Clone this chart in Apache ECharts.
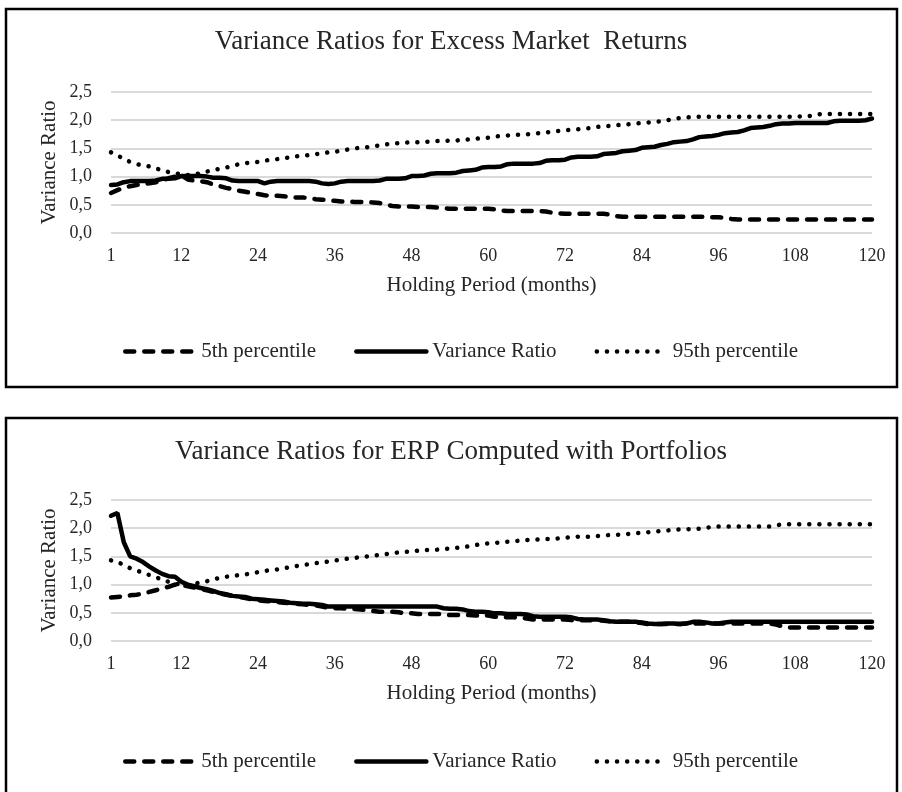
<!DOCTYPE html>
<html>
<head>
<meta charset="utf-8">
<script src="https://cdn.jsdelivr.net/npm/echarts@6/dist/echarts.min.js"></script>
<style>
html,body{margin:0;padding:0;background:#fff;}
#chart{width:902px;height:792px;}
</style>
</head>
<body>
<div id="chart"></div>
<script>
// Holding periods (months)
const months = [1,2,3,4,5,6,7,8,9,10,11,12,13,14,15,16,17,18,19,20,
21,22,23,24,25,26,27,28,29,30,31,32,33,34,35,36,37,38,39,40,
41,42,43,44,45,46,47,48,49,50,51,52,53,54,55,56,57,58,59,60,
61,62,63,64,65,66,67,68,69,70,71,72,73,74,75,76,77,78,79,80,
81,82,83,84,85,86,87,88,89,90,91,92,93,94,95,96,97,98,99,100,
101,102,103,104,105,106,107,108,109,110,111,112,113,114,115,116,117,118,119,120];
const xTickLabels = [1,12,24,36,48,60,72,84,96,108,120];
const yTicks = [0,0.5,1,1.5,2,2.5];

const titleTop = "Variance Ratios for Excess Market  Returns";
const titleBottom = "Variance Ratios for ERP Computed with Portfolios";
const seriesNames = ["5th percentile","Variance Ratio","95th percentile"];

// Chart 1: Excess Market Returns
const topP5 = [0.71,0.76,0.80,0.83,0.85,0.87,0.88,0.90,0.93,0.97,
1.00,1.02,0.95,0.93,0.92,0.90,0.86,0.83,0.80,0.78,
0.75,0.73,0.71,0.69,0.67,0.66,0.66,0.65,0.64,0.63,
0.63,0.62,0.60,0.59,0.58,0.57,0.56,0.56,0.55,0.55,
0.55,0.54,0.53,0.50,0.48,0.47,0.47,0.47,0.46,0.46,
0.46,0.45,0.44,0.43,0.43,0.43,0.43,0.43,0.43,0.43,
0.42,0.40,0.39,0.39,0.39,0.39,0.39,0.39,0.38,0.36,
0.35,0.34,0.34,0.34,0.34,0.34,0.34,0.34,0.33,0.30,
0.29,0.29,0.29,0.29,0.29,0.29,0.29,0.29,0.29,0.29,
0.29,0.29,0.29,0.29,0.28,0.28,0.27,0.25,0.24,0.24,
0.24,0.24,0.24,0.24,0.24,0.24,0.24,0.24,0.24,0.24,
0.24,0.24,0.24,0.24,0.24,0.24,0.24,0.24,0.24,0.24];
const topVR = [0.85,0.86,0.90,0.92,0.92,0.92,0.92,0.93,0.96,0.96,
0.97,1.01,1.01,1.01,1.01,1.00,0.98,0.98,0.97,0.93,
0.92,0.92,0.92,0.92,0.88,0.91,0.92,0.92,0.92,0.92,
0.92,0.92,0.91,0.88,0.87,0.88,0.91,0.92,0.92,0.92,
0.92,0.92,0.93,0.96,0.96,0.96,0.97,1.01,1.01,1.02,
1.05,1.06,1.06,1.06,1.07,1.10,1.11,1.12,1.16,1.17,
1.17,1.18,1.22,1.23,1.23,1.23,1.23,1.24,1.28,1.29,
1.29,1.30,1.34,1.35,1.35,1.35,1.36,1.40,1.41,1.42,
1.45,1.46,1.47,1.51,1.52,1.53,1.56,1.58,1.61,1.62,
1.63,1.66,1.70,1.71,1.72,1.74,1.77,1.78,1.79,1.82,
1.86,1.87,1.88,1.90,1.93,1.94,1.94,1.95,1.95,1.95,
1.95,1.95,1.95,1.98,1.99,1.99,1.99,1.99,2.00,2.03];
const topP95 = [1.43,1.38,1.31,1.26,1.22,1.20,1.18,1.14,1.12,1.08,
1.06,1.04,1.03,1.04,1.06,1.09,1.11,1.14,1.16,1.19,
1.22,1.24,1.25,1.26,1.28,1.30,1.31,1.33,1.34,1.36,
1.37,1.38,1.40,1.41,1.43,1.44,1.46,1.48,1.50,1.51,
1.52,1.54,1.55,1.57,1.59,1.59,1.60,1.61,1.61,1.62,
1.62,1.63,1.63,1.64,1.64,1.65,1.66,1.67,1.68,1.69,
1.71,1.72,1.73,1.74,1.74,1.75,1.76,1.77,1.78,1.80,
1.81,1.82,1.83,1.84,1.85,1.86,1.88,1.89,1.90,1.91,
1.92,1.93,1.94,1.95,1.96,1.97,1.98,2.00,2.02,2.04,
2.05,2.06,2.06,2.06,2.06,2.06,2.06,2.06,2.06,2.06,
2.06,2.06,2.06,2.06,2.06,2.06,2.06,2.06,2.07,2.07,
2.09,2.11,2.11,2.11,2.11,2.11,2.11,2.11,2.11,2.11];

// Chart 2: ERP computed with portfolios
const botP5 = [0.77,0.78,0.79,0.81,0.82,0.84,0.87,0.90,0.93,0.96,
1.00,0.99,0.97,0.95,0.92,0.90,0.87,0.84,0.82,0.80,
0.78,0.76,0.74,0.72,0.71,0.70,0.69,0.68,0.67,0.66,
0.65,0.64,0.63,0.61,0.59,0.58,0.58,0.57,0.57,0.56,
0.55,0.53,0.52,0.52,0.52,0.51,0.49,0.49,0.48,0.48,
0.48,0.48,0.47,0.46,0.46,0.46,0.46,0.45,0.45,0.45,
0.43,0.43,0.42,0.42,0.41,0.40,0.38,0.38,0.38,0.38,
0.38,0.38,0.37,0.37,0.37,0.37,0.37,0.36,0.35,0.34,
0.34,0.34,0.33,0.32,0.30,0.30,0.30,0.30,0.30,0.30,
0.31,0.31,0.31,0.31,0.31,0.31,0.31,0.31,0.31,0.31,
0.31,0.31,0.31,0.31,0.29,0.26,0.24,0.24,0.24,0.24,
0.24,0.24,0.24,0.24,0.24,0.24,0.24,0.24,0.24,0.24];
const botVR = [2.22,2.27,1.75,1.50,1.46,1.40,1.32,1.25,1.19,1.15,
1.14,1.05,1.00,0.97,0.94,0.92,0.89,0.85,0.83,0.80,
0.79,0.78,0.75,0.74,0.73,0.72,0.71,0.70,0.68,0.67,
0.66,0.66,0.65,0.64,0.61,0.61,0.61,0.61,0.61,0.61,
0.61,0.61,0.61,0.61,0.61,0.61,0.61,0.61,0.61,0.61,
0.61,0.61,0.58,0.57,0.57,0.56,0.53,0.52,0.52,0.51,
0.49,0.49,0.48,0.48,0.48,0.47,0.44,0.43,0.43,0.43,
0.43,0.43,0.42,0.39,0.38,0.38,0.38,0.37,0.35,0.34,
0.34,0.34,0.34,0.33,0.31,0.30,0.30,0.31,0.31,0.30,
0.31,0.34,0.34,0.33,0.31,0.31,0.33,0.34,0.34,0.34,
0.34,0.34,0.34,0.34,0.34,0.34,0.34,0.34,0.34,0.34,
0.34,0.34,0.34,0.34,0.34,0.34,0.34,0.34,0.34,0.34];
const botP95 = [1.43,1.40,1.35,1.29,1.25,1.21,1.17,1.13,1.09,1.05,
1.02,1.00,0.99,1.01,1.04,1.06,1.09,1.12,1.14,1.15,
1.17,1.18,1.20,1.22,1.24,1.26,1.27,1.29,1.31,1.33,
1.35,1.36,1.38,1.39,1.41,1.43,1.44,1.46,1.47,1.49,
1.50,1.51,1.53,1.54,1.56,1.57,1.58,1.59,1.60,1.61,
1.62,1.62,1.63,1.64,1.65,1.66,1.68,1.70,1.72,1.73,
1.74,1.75,1.76,1.77,1.78,1.79,1.80,1.80,1.81,1.81,
1.82,1.83,1.84,1.85,1.85,1.85,1.86,1.87,1.88,1.88,
1.89,1.90,1.91,1.92,1.93,1.94,1.95,1.96,1.97,1.98,
1.98,1.99,1.99,2.00,2.03,2.03,2.03,2.03,2.03,2.03,
2.03,2.03,2.03,2.03,2.05,2.07,2.07,2.07,2.07,2.07,
2.07,2.07,2.07,2.07,2.07,2.07,2.07,2.07,2.07,2.07];

const FONT = "'Liberation Serif', 'Times New Roman', serif";
const TXT = '#262626';

const styles = [
  {type:[9,10], cap:'round', width:4.5},
  {type:'solid', cap:'round', width:4.5},
  {type:[0.1,10], cap:'round', width:4.5}
];

function makeAxes(gi){
  const xa = {
    type:'category', gridIndex:gi, data:months, boundaryGap:false,
    axisLine:{show:false}, axisTick:{show:false},
    axisLabel:{
      interval:(idx,val)=>xTickLabels.indexOf(Number(val))>=0,
      margin:14, fontFamily:FONT, fontSize:18, color:TXT
    },
    name:'Holding Period (months)', nameLocation:'middle', nameGap:42,
    nameTextStyle:{fontFamily:FONT, fontSize:21, color:TXT},
    splitLine:{show:false}
  };
  const ya = {
    type:'value', gridIndex:gi, min:yTicks[0], max:yTicks[yTicks.length-1], interval:0.5,
    axisLine:{show:false}, axisTick:{show:false},
    axisLabel:{formatter:v=>v.toFixed(1).replace('.',','), margin:19, fontFamily:FONT, fontSize:18, color:TXT},
    splitLine:{lineStyle:{color:'#d9d9d9', width:2}},
    name:'Variance Ratio', nameLocation:'middle', nameGap:51, nameRotate:90,
    nameMoveOverlap:false,
    nameTextStyle:{fontFamily:FONT, fontSize:21, color:TXT}
  };
  return [xa, ya];
}

const ax0 = makeAxes(0), ax1 = makeAxes(1);
function mk(name, data, gi, si){
  return {
    name:name, type:'line', xAxisIndex:gi, yAxisIndex:gi, data:data,
    symbol:'none', showSymbol:false, smooth:false,
    lineStyle:Object.assign({color:'#000'}, styles[si]),
    itemStyle:{color:'#000'},
    emphasis:{disabled:true}, animation:false, z: si===1?3:2
  };
}

const legendBase = {
  data:seriesNames, left:123, padding:0, itemWidth:70, itemHeight:14, itemGap:38,
  textStyle:{fontFamily:FONT, fontSize:21, color:TXT, padding:[0,0,0,1]},
  itemStyle:{opacity:0},
  lineStyle:{width:4.5, cap:'round'},
  selectedMode:false
};

const option = {
  backgroundColor:'#fff',
  animation:false,
  title:[
    {text:titleTop, left:'center', top:28, padding:0, textStyle:{fontFamily:FONT, fontSize:27, fontWeight:'normal', color:TXT}},
    {text:titleBottom, left:'center', top:438, padding:0, textStyle:{fontFamily:FONT, fontSize:27, fontWeight:'normal', color:TXT}}
  ],
  legend:[
    Object.assign({top:341}, legendBase),
    Object.assign({top:751}, legendBase)
  ],
  grid:[
    {left:111, right:30, top:92, height:141},
    {left:111, right:30, top:500, height:141}
  ],
  xAxis:[ax0[0], ax1[0]],
  yAxis:[ax0[1], ax1[1]],
  series:[
    mk(seriesNames[0], topP5, 0, 0),
    mk(seriesNames[1], topVR, 0, 1),
    mk(seriesNames[2], topP95, 0, 2),
    mk(seriesNames[0], botP5, 1, 0),
    mk(seriesNames[1], botVR, 1, 1),
    mk(seriesNames[2], botP95, 1, 2)
  ],
  graphic:[
    {type:'rect', shape:{x:6, y:9, width:891, height:378}, style:{fill:'none', stroke:'#000', lineWidth:2.5}, silent:true},
    {type:'rect', shape:{x:6, y:418, width:891, height:400}, style:{fill:'none', stroke:'#000', lineWidth:2.5}, silent:true}
  ]
};

const chart = echarts.init(document.getElementById('chart'), null, {renderer:'canvas'});
chart.setOption(option);
</script>
</body>
</html>
